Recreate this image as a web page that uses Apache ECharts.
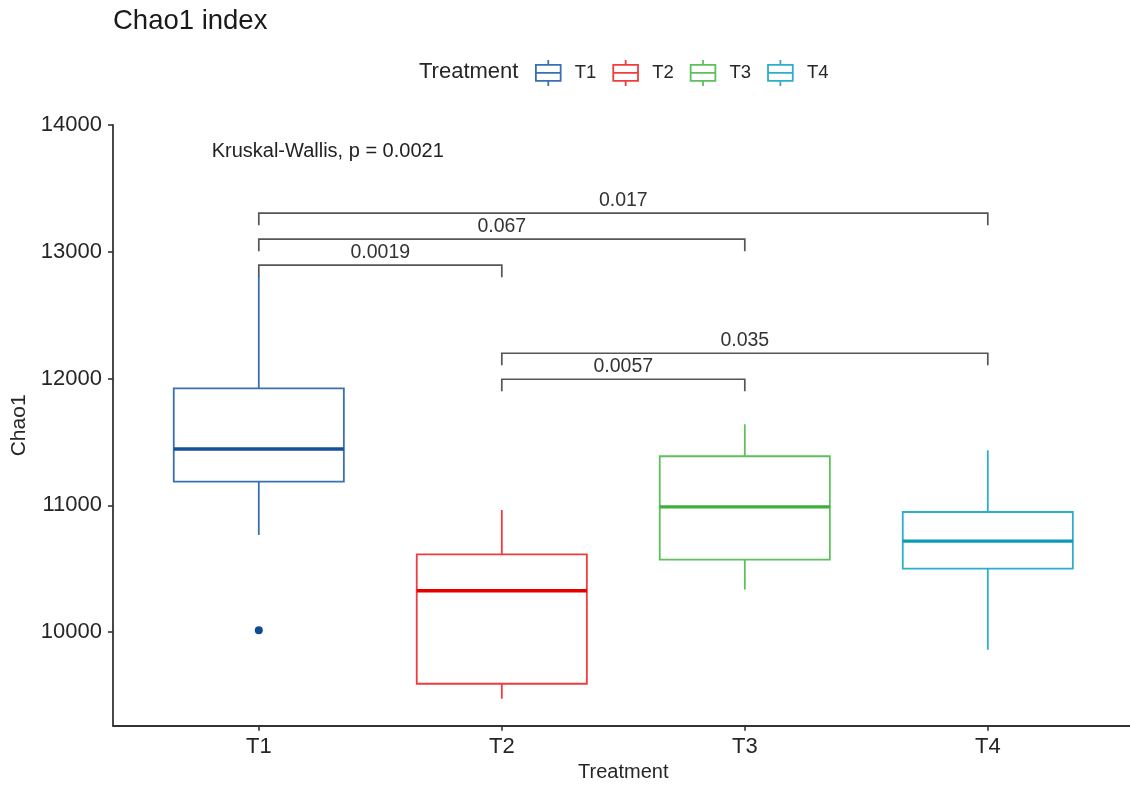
<!DOCTYPE html>
<html>
<head>
<meta charset="utf-8">
<title>Chao1 index</title>
<script src="https://cdn.jsdelivr.net/npm/echarts@6/dist/echarts.min.js"></script>
<style>
  html, body { margin: 0; padding: 0; background: #fff; }
  #chart { width: 1130px; height: 785px; }
</style>
</head>
<body>
<div id="chart"></div>
<script>
// Treatments and their box summaries: [lower whisker, Q1, median, Q3, upper whisker]
const treatments = ['T1', 'T2', 'T3', 'T4'];
const boxT1 = [10767, 11187, 11445, 11923, 12809];
const boxT2 = [9476, 9594, 10327, 10614, 10964];
const boxT3 = [10336, 10572, 10988, 11388, 11640];
const boxT4 = [9862, 10501, 10719, 10948, 11435];
const outliersT1 = [10016];

// Pairwise comparisons: [group a, group b, bracket height, p value]
const pairGroupA = ['T1', 'T1', 'T1', 'T2', 'T2'];
const pairGroupB = ['T4', 'T3', 'T2', 'T4', 'T3'];
const pairHeight = [13305, 13100, 12895, 12200, 11995];
const pairLabel = ['0.017', '0.067', '0.0019', '0.035', '0.0057'];

const globalTest = 'Kruskal-Wallis, p = 0.0021';
const globalTestPos = [0.806, 13795];

const yTicks = [10000, 11000, 12000, 13000, 14000];

// Colours: outline and (thicker) median line per treatment
const boxColor = ['#3A70B2', '#F03C3C', '#5DC05D', '#2BB0C8'];
const medianColor = ['#15519B', '#E80000', '#3DAF3D', '#0A9AB5'];

const FONT = "'Liberation Sans', Arial, sans-serif";
const TEXT = '#262626';
const boxes = [boxT1, boxT2, boxT3, boxT4];

function boxRender(params, api) {
  const x = api.value(0);
  const lo = api.value(1), q1 = api.value(2), med = api.value(3), q3 = api.value(4), hi = api.value(5);
  const half = 0.35;
  const L = api.coord([x - half, q3]);
  const R = api.coord([x + half, q1]);
  const cTop = api.coord([x, hi]);
  const cQ3 = api.coord([x, q3]);
  const cQ1 = api.coord([x, q1]);
  const cLo = api.coord([x, lo]);
  const mL = api.coord([x - half, med]);
  const mR = api.coord([x + half, med]);
  const i = params.seriesIndex;
  const stroke = { stroke: boxColor[i], lineWidth: 1.8, fill: null };
  return {
    type: 'group',
    children: [
      { type: 'line', shape: { x1: cTop[0], y1: cTop[1], x2: cQ3[0], y2: cQ3[1] }, style: stroke },
      { type: 'line', shape: { x1: cQ1[0], y1: cQ1[1], x2: cLo[0], y2: cLo[1] }, style: stroke },
      { type: 'rect', shape: { x: L[0], y: L[1], width: R[0] - L[0], height: R[1] - L[1] }, style: { stroke: boxColor[i], lineWidth: 1.8, fill: 'rgba(0,0,0,0)' } },
      { type: 'line', shape: { x1: mL[0], y1: mL[1], x2: mR[0], y2: mR[1] }, style: { stroke: medianColor[i], lineWidth: 3.3 } }
    ]
  };
}

function bracketRender(params, api) {
  const a = api.value(0), b = api.value(1), y = api.value(2);
  const drop = 95;
  const p1 = api.coord([a, y - drop]);
  const p2 = api.coord([a, y]);
  const p3 = api.coord([b, y]);
  const p4 = api.coord([b, y - drop]);
  const label = pairLabel[params.dataIndex];
  return {
    type: 'group',
    children: [
      { type: 'polyline', shape: { points: [p1, p2, p3, p4] }, style: { stroke: '#555', lineWidth: 1.7, fill: null } },
      { type: 'text', x: (p2[0] + p3[0]) / 2, y: p2[1] - 3,
        style: { text: label, font: '19.5px ' + FONT, fill: '#333', align: 'center', verticalAlign: 'bottom' } }
    ]
  };
}

const boxSeries = treatments.map((t, i) => ({
  name: t,
  type: 'custom',
  renderItem: boxRender,
  itemStyle: { color: boxColor[i] },
  encode: { x: 0, y: [1, 2, 3, 4, 5] },
  data: [[i + 1].concat(boxes[i])],
  z: 3
}));

const bracketData = pairGroupA.map((g, k) => [
  treatments.indexOf(g) + 1, treatments.indexOf(pairGroupB[k]) + 1, pairHeight[k]
]);

const boxIcon = 'path://M10,0 L10,4 M0,4 L20,4 L20,17 L0,17 Z M0,10.5 L20,10.5 M10,17 L10,21';

const option = {
  animation: false,
  backgroundColor: '#ffffff',
  title: [
    { text: 'Chao1 index', left: 113, top: 7, padding: 0,
      textStyle: { fontFamily: FONT, fontSize: 27.5, fontWeight: 'normal', color: '#1a1a1a' } },
    { text: 'Treatment', left: 419, top: 61, padding: 0,
      textStyle: { fontFamily: FONT, fontSize: 22, fontWeight: 'normal', color: TEXT } }
  ],
  legend: {
    left: 535, top: 59, padding: 0,
    itemWidth: 27, itemHeight: 26, itemGap: 16,
    icon: boxIcon,
    textStyle: { fontFamily: FONT, fontSize: 18.5, color: TEXT, padding: [0, 0, 0, 8] },
    data: treatments.map((t, i) => ({
      name: t,
      itemStyle: { color: 'rgba(0,0,0,0)', borderColor: boxColor[i], borderWidth: 1.8 }
    }))
  },
  grid: { left: 113, top: 125, width: 1020.6, height: 600.7, outerBoundsMode: 'none', containLabel: false },
  xAxis: {
    type: 'value', min: 0.4, max: 4.6,
    name: 'Treatment', nameLocation: 'middle', nameGap: 37,
    nameTextStyle: { fontFamily: FONT, fontSize: 20, color: TEXT },
    axisLine: { show: true, onZero: false, lineStyle: { color: '#333', width: 1.8 } },
    axisTick: { show: true, length: 5, customValues: [1, 2, 3, 4], lineStyle: { color: '#333', width: 1.6 } },
    axisLabel: {
      customValues: [1, 2, 3, 4], margin: 10,
      fontFamily: FONT, fontSize: 22, color: TEXT,
      formatter: v => treatments[Math.round(v) - 1] || ''
    },
    splitLine: { show: false }
  },
  yAxis: {
    type: 'value', min: 9263, max: 14000,
    name: 'Chao1', nameLocation: 'middle', nameGap: 74,
    nameTextStyle: { fontFamily: FONT, fontSize: 21, color: TEXT },
    axisLine: { show: true, onZero: false, lineStyle: { color: '#333', width: 1.8 } },
    axisTick: { show: true, length: 5, customValues: yTicks, lineStyle: { color: '#333', width: 1.6 } },
    axisLabel: {
      customValues: yTicks, margin: 11, fontFamily: FONT, fontSize: 22, color: TEXT,
      formatter: v => String(Math.round(v))
    },
    splitLine: { show: false }
  },
  series: boxSeries.concat([
    {
      name: 'outlier', type: 'scatter', symbolSize: 8,
      itemStyle: { color: '#0E4C92', opacity: 1 },
      data: outliersT1.map(v => [1, v]), z: 4
    },
    {
      name: 'comparisons', type: 'custom', renderItem: bracketRender,
      encode: { x: [0, 1], y: 2 },
      data: bracketData, z: 2
    },
    {
      name: 'global test', type: 'custom',
      renderItem: (params, api) => {
        const p = api.coord([api.value(0), api.value(1)]);
        return { type: 'text', x: p[0], y: p[1],
          style: { text: globalTest, font: '20px ' + FONT, fill: '#222', align: 'left', verticalAlign: 'middle' } };
      },
      encode: { x: 0, y: 1 },
      data: [globalTestPos]
    }
  ])
};

const chart = echarts.init(document.getElementById('chart'), null, { renderer: 'canvas' });
chart.setOption(option);
</script>
</body>
</html>
